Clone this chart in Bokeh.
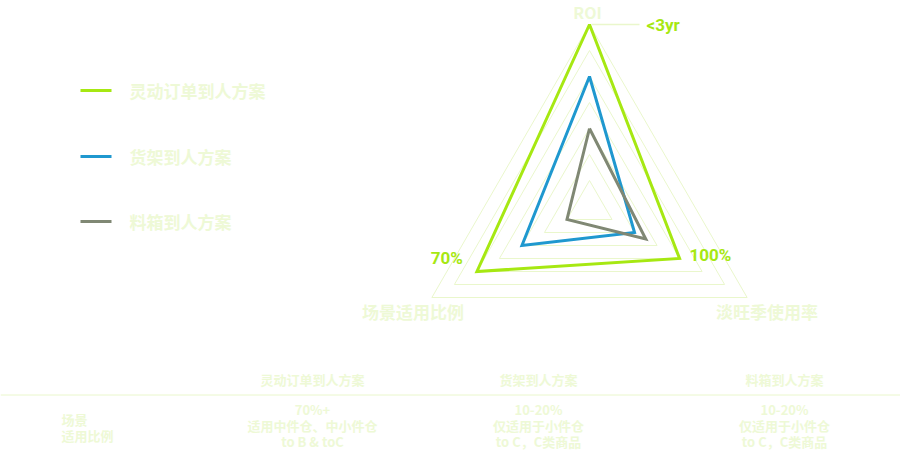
import math
from bokeh.plotting import figure
from bokeh.models import Range1d
from bokeh.core.properties import value
from bokeh.embed import file_html
from bokeh.resources import INLINE

# ---------------- data ----------------
indicators = ["ROI", "淡旺季使用率", "场景适用比例"]
series_names = ["灵动订单到人方案", "货架到人方案", "料箱到人方案"]
flex_values = [7, 4, 5]
shelf_values = [5, 2, 3]
bin_values = [3, 2.5, 1]
value_max = 7
split_number = 7
flex_labels = ["<3yr", "100%", "70%"]

table_header = ["灵动订单到人方案", "货架到人方案", "料箱到人方案"]
row_label = ["场景", "适用比例"]
row_cells = [
    ["70%+", "适用中件仓、中小件仓", "to B & toC"],
    ["10-20%", "仅适用于小件仓", "to C，C类商品"],
    ["10-20%", "仅适用于小件仓", "to C，C类商品"],
]

# ---------------- styles ----------------
PALE = "#eef9d6"
GRID = "#eaf7cc"
colors = ["#a6e812", "#1f98cf", "#808874"]
FONT = value("Noto Sans CJK SC")
LFONT = value("Roboto")

W, H = 900, 450
p = figure(width=W, height=H, output_backend="svg", toolbar_location=None,
           x_range=Range1d(0, W), y_range=Range1d(H, 0),
           x_axis_location=None, y_axis_location=None, min_border=0)
p.xgrid.visible = False
p.ygrid.visible = False
p.outline_line_color = None
p.background_fill_color = "white"
p.border_fill_color = "white"

# radar geometry
cx, cy, R = 589, 206, 182
angles = [90, -30, 210]


def pt(v, k):
    r = R * v / value_max
    a = math.radians(angles[k])
    return cx + r * math.cos(a), cy - r * math.sin(a)


# grid triangles
for lvl in range(1, split_number + 1):
    v = value_max * lvl / split_number
    xs, ys = zip(*[pt(v, k) for k in range(3)] + [pt(v, 0)])
    p.line(list(xs), list(ys), line_color=GRID, line_width=1)

# series
for vals, c in zip([flex_values, shelf_values, bin_values], colors):
    pts = [pt(vals[k], k) for k in range(3)]
    pts.append(pts[0])
    xs, ys = zip(*pts)
    p.line(list(xs), list(ys), line_color=c, line_width=3, line_join="miter")

# value labels for flex series
tx, ty = pt(flex_values[0], 0)
p.line([tx + 2, tx + 50], [ty, ty], line_color=GRID, line_width=1.5)
p.text([tx + 57], [ty], text=[flex_labels[0]], text_color=colors[0], text_font=LFONT,
       text_font_style="bold", text_font_size="17px", text_baseline="middle", text_align="left")
rx, ry = pt(flex_values[1], 1)
p.text([rx + 10], [ry - 4], text=[flex_labels[1]], text_color=colors[0], text_font=LFONT,
       text_font_style="bold", text_font_size="17px", text_baseline="middle", text_align="left")
lx, ly = pt(flex_values[2], 2)
p.text([lx - 14], [ly - 14], text=[flex_labels[2]], text_color=colors[0], text_font=LFONT,
       text_font_style="bold", text_font_size="17px", text_baseline="middle", text_align="right")

# indicator names
ox, oy = pt(value_max, 0)
p.text([ox - 2], [oy - 13], text=[indicators[0]], text_color=PALE, text_font=FONT,
       text_font_style="bold", text_font_size="16px", text_baseline="middle", text_align="center")
ox, oy = pt(value_max, 1)
p.text([ox + 20], [oy + 14], text=[indicators[1]], text_color=PALE, text_font=FONT,
       text_font_style="bold", text_font_size="17px", text_baseline="middle", text_align="center")
ox, oy = pt(value_max, 2)
p.text([ox - 19], [oy + 14], text=[indicators[2]], text_color=PALE, text_font=FONT,
       text_font_style="bold", text_font_size="17px", text_baseline="middle", text_align="center")

# legend
leg_y = [90, 156, 221]
for name, c, y in zip(series_names, colors, leg_y):
    p.line([80, 111], [y, y], line_color=c, line_width=3)
    p.text([129], [y], text=[name], text_color=PALE, text_font=FONT, text_font_style="bold",
           text_font_size="17px", text_baseline="middle", text_align="left")

# table
col_x = [312, 538, 784]
p.text(col_x, [379] * 3, text=table_header, text_color=PALE, text_font=FONT,
       text_font_style="bold", text_font_size="13px", text_baseline="middle", text_align="center")
p.line([0, W], [394.5, 394.5], line_color=GRID, line_width=1)
for i, lab in enumerate(row_label):
    p.text([61], [419 + 16 * i], text=[lab], text_color=PALE, text_font=FONT,
           text_font_style="bold", text_font_size="13px", text_baseline="middle", text_align="left")
for x, cell in zip(col_x, row_cells):
    for i, line in enumerate(cell):
        p.text([x], [409 + 16 * i], text=[line], text_color=PALE, text_font=FONT,
               text_font_style="bold", text_font_size="13px", text_baseline="middle",
               text_align="center")

open("out.html", "w").write(file_html(p, INLINE))
